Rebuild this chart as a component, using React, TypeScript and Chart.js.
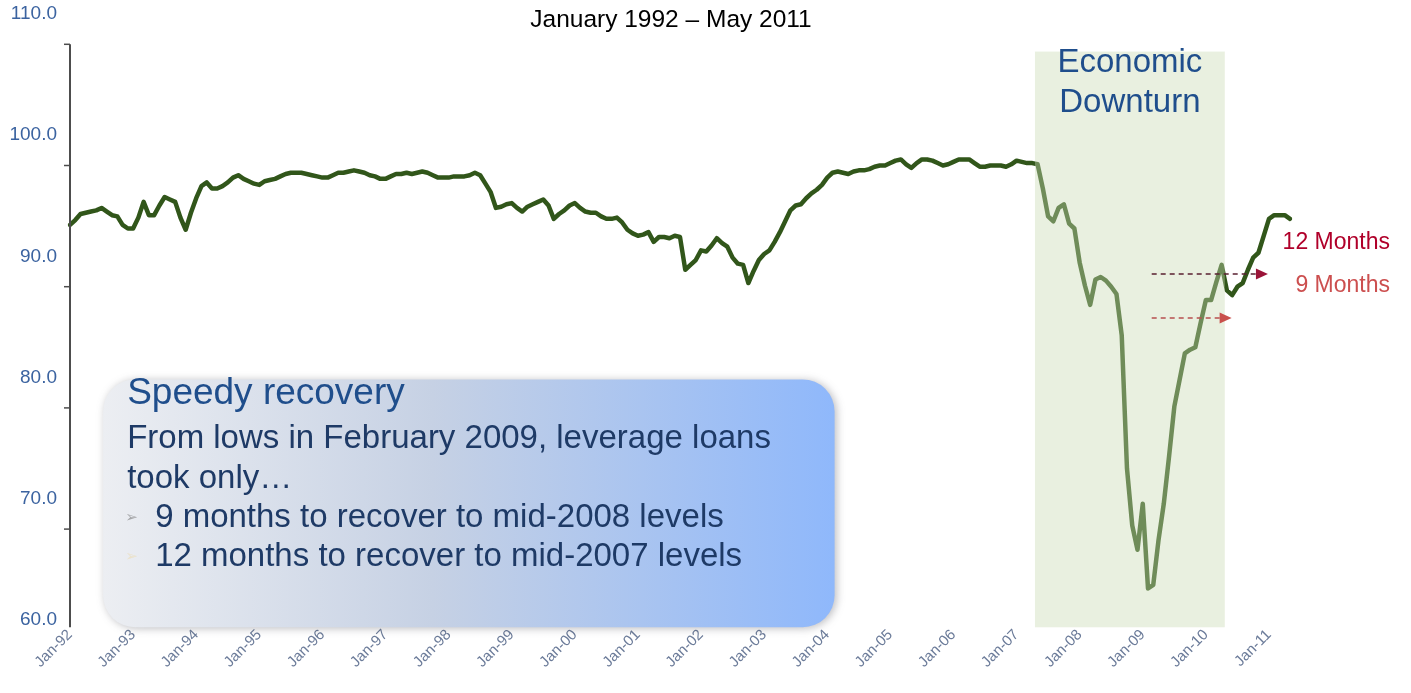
import { useEffect, useRef } from "react";
import { Chart, registerables } from "chart.js";
Chart.register(...registerables);

// ---------- DATA ----------
const monthNames = ["Jan", "Feb", "Mar", "Apr", "May", "Jun", "Jul", "Aug", "Sep", "Oct", "Nov", "Dec"];
const years = ["92", "93", "94", "95", "96", "97", "98", "99", "00", "01", "02", "03", "04", "05", "06", "07", "08", "09", "10", "11"];
const lastYearMonths = 5; // data ends May 2011

const categories: string[] = [];
years.forEach((yy, yi) => {
  const n = yi === years.length - 1 ? lastYearMonths : 12;
  for (let m = 0; m < n; m++) categories.push(`${monthNames[m]}-${yy}`);
});

const idx1992_1995 = [
  92.6, 93.0, 93.5, 93.6, 93.7, 93.8, 94.0, 93.7, 93.4, 93.3, 92.6, 92.3,
  92.3, 93.2, 94.5, 93.4, 93.4, 94.2, 94.9, 94.7, 94.5, 93.2, 92.2, 93.6,
  94.8, 95.8, 96.1, 95.6, 95.6, 95.8, 96.1, 96.5, 96.7, 96.4, 96.2, 96.0,
  95.9, 96.2, 96.3, 96.4, 96.6, 96.8, 96.9, 96.9, 96.9, 96.8, 96.7, 96.6,
];
const idx1996_1999 = [
  96.5, 96.5, 96.7, 96.9, 96.9, 97.0, 97.1, 97.0, 96.9, 96.7, 96.6, 96.4,
  96.4, 96.6, 96.8, 96.8, 96.9, 96.8, 96.9, 97.0, 96.9, 96.7, 96.5, 96.5,
  96.5, 96.6, 96.6, 96.6, 96.7, 96.9, 96.7, 96.0, 95.3, 94.0, 94.1, 94.3,
  94.4, 94.0, 93.7, 94.1, 94.3, 94.5, 94.7, 94.2, 93.1, 93.5, 93.8, 94.2,
];
const idx2000_2003 = [
  94.4, 94.0, 93.7, 93.6, 93.6, 93.3, 93.1, 93.1, 93.2, 92.8, 92.2, 91.9,
  91.7, 91.8, 92.0, 91.2, 91.6, 91.6, 91.5, 91.7, 91.6, 88.9, 89.3, 89.7,
  90.5, 90.4, 90.9, 91.5, 91.1, 90.8, 89.9, 89.4, 89.3, 87.8, 88.8, 89.7,
  90.2, 90.5, 91.2, 92.0, 92.9, 93.8, 94.2, 94.3, 94.8, 95.2, 95.5, 95.9,
];
const idx2004_2007 = [
  96.5, 96.9, 97.0, 96.9, 96.8, 97.0, 97.1, 97.1, 97.2, 97.4, 97.5, 97.5,
  97.7, 97.9, 98.0, 97.6, 97.3, 97.7, 98.0, 98.0, 97.9, 97.7, 97.5, 97.6,
  97.8, 98.0, 98.0, 98.0, 97.7, 97.4, 97.4, 97.5, 97.5, 97.5, 97.4, 97.6,
  97.9, 97.8, 97.7, 97.7, 97.6, 95.6, 93.3, 92.9, 94.0, 94.3, 92.7, 92.3,
];
const idx2008_2011 = [
  89.5, 87.6, 86.0, 88.1, 88.3, 88.0, 87.5, 86.9, 83.5, 72.5, 67.8, 65.8,
  69.6, 62.6, 62.9, 66.6, 69.6, 73.5, 77.6, 79.8, 82.0, 82.3, 82.5, 84.5,
  86.4, 86.4, 87.9, 89.3, 87.2, 86.8, 87.5, 87.8, 88.9, 89.9, 90.3, 91.7,
  93.1, 93.4, 93.4, 93.4, 93.1,
];
const loanIndex = [...idx1992_1995, ...idx1996_1999, ...idx2000_2003, ...idx2004_2007, ...idx2008_2011];

const yMin = 60;
const yMax = 110;
const yStep = 10;
const axisTickMarks = [107.5, 97.5, 87.5, 77.5, 67.5];
const axisExtent = [107.5, 59.4];

const titleText = "January 1992 – May 2011";
const downturnLabel = ["Economic", "Downturn"];
const downturnSpan = { from: 183.5, to: 219.6, top: 106.9, bottom: 59.4 };
const recoverySpan = { from: 6.3, to: 145.4, top: 79.85, bottom: 59.4 };
const recoveryTitle = "Speedy recovery";
const recoveryLines = ["From lows in February 2009, leverage loans", "took only…"];
const recoveryBullets = ["9 months to recover to mid-2008 levels", "12 months to recover to mid-2007 levels"];
const arrow12 = { from: 205.7, to: 227.8, level: 88.55, label: "12 Months", labelLevel: 90.6 };
const arrow9 = { from: 205.7, to: 220.9, level: 84.92, label: "9 Months", labelLevel: 87.1 };

const FONT = '"Liberation Sans", Arial, sans-serif';

const annotationPlugin = {
  id: "annotations",
  beforeDatasetsDraw(chart: any) {
    const { ctx, scales } = chart;
    const x = scales.x, y = scales.y;
    const l = x.getPixelForValue(recoverySpan.from);
    const r = x.getPixelForValue(recoverySpan.to);
    const t = y.getPixelForValue(recoverySpan.top);
    const b = y.getPixelForValue(recoverySpan.bottom);
    ctx.save();
    ctx.shadowColor = "rgba(60,60,70,0.35)";
    ctx.shadowBlur = 9;
    ctx.shadowOffsetX = 2;
    ctx.shadowOffsetY = 1;
    const grad = ctx.createLinearGradient(l, 0, r, 0);
    grad.addColorStop(0, "#eceef2");
    grad.addColorStop(0.45, "#c6d1e4");
    grad.addColorStop(1, "#8fb8fb");
    ctx.fillStyle = grad;
    ctx.beginPath();
    ctx.roundRect(l, t, r - l, b - t, 32);
    ctx.fill();
    ctx.restore();

    ctx.save();
    ctx.textAlign = "left";
    ctx.textBaseline = "alphabetic";
    ctx.fillStyle = "#1f4e8c";
    ctx.font = `37px ${FONT}`;
    ctx.fillText(recoveryTitle, l + 24, t + 25);
    ctx.fillStyle = "#1e3a66";
    ctx.font = `33px ${FONT}`;
    recoveryLines.forEach((s, i) => ctx.fillText(s, l + 24, t + 69 + i * 39.5));
    recoveryBullets.forEach((s, i) => {
      const by = t + 148 + i * 39;
      ctx.font = `15px "DejaVu Sans", sans-serif`;
      ctx.fillStyle = i === 0 ? "rgba(110,110,110,0.55)" : "rgba(235,225,200,0.9)";
      ctx.fillText("➢", l + 22, by - 5);
      ctx.font = `33px ${FONT}`;
      ctx.fillStyle = "#1e3a66";
      ctx.fillText(s, l + 52, by);
    });
    ctx.restore();
  },
  afterDatasetsDraw(chart: any) {
    const { ctx, scales, chartArea } = chart;
    const x = scales.x, y = scales.y;

    // Economic downturn shading (translucent, lightens the line beneath)
    const dl = x.getPixelForValue(downturnSpan.from);
    const dr = x.getPixelForValue(downturnSpan.to);
    const dt = y.getPixelForValue(downturnSpan.top);
    const db = y.getPixelForValue(downturnSpan.bottom);
    ctx.save();
    ctx.fillStyle = "rgba(201,218,179,0.41)";
    ctx.fillRect(dl, dt, dr - dl, db - dt);
    ctx.fillStyle = "#1f4e8c";
    ctx.font = `33px ${FONT}`;
    ctx.textAlign = "center";
    ctx.textBaseline = "alphabetic";
    downturnLabel.forEach((s, i) => ctx.fillText(s, (dl + dr) / 2, dt + 20 + i * 40));
    ctx.restore();

    // arrows
    const drawArrow = (a: any, dashColor: string, headColor: string) => {
      const x0 = x.getPixelForValue(a.from);
      const x1 = x.getPixelForValue(a.to);
      const yy = y.getPixelForValue(a.level);
      ctx.save();
      ctx.strokeStyle = dashColor;
      ctx.lineWidth = 1.5;
      ctx.setLineDash([5, 4]);
      ctx.beginPath();
      ctx.moveTo(x0, yy);
      ctx.lineTo(x1 - 11, yy);
      ctx.stroke();
      ctx.setLineDash([]);
      ctx.fillStyle = headColor;
      ctx.beginPath();
      ctx.moveTo(x1, yy);
      ctx.lineTo(x1 - 12, yy - 5.5);
      ctx.lineTo(x1 - 12, yy + 5.5);
      ctx.closePath();
      ctx.fill();
      ctx.restore();
    };
    drawArrow(arrow12, "#5a2030", "#9b1438");
    drawArrow(arrow9, "#b85050", "#c9504c");

    // month labels
    ctx.save();
    ctx.font = `23px ${FONT}`;
    ctx.textAlign = "right";
    ctx.textBaseline = "alphabetic";
    ctx.fillStyle = "#b0002a";
    ctx.fillText(arrow12.label, chartArea.right + 100, y.getPixelForValue(arrow12.labelLevel));
    ctx.fillStyle = "#cc4f4f";
    ctx.fillText(arrow9.label, chartArea.right + 100, y.getPixelForValue(arrow9.labelLevel));
    ctx.restore();

    // y axis line with tick marks
    const ax = chartArea.left;
    ctx.save();
    ctx.strokeStyle = "#4d4d4d";
    ctx.lineWidth = 2;
    ctx.beginPath();
    ctx.moveTo(ax, y.getPixelForValue(axisExtent[0]));
    ctx.lineTo(ax, y.getPixelForValue(axisExtent[1]));
    ctx.stroke();
    ctx.lineWidth = 1.5;
    axisTickMarks.forEach((v) => {
      const ty = y.getPixelForValue(v);
      ctx.beginPath();
      ctx.moveTo(ax - 6, ty);
      ctx.lineTo(ax, ty);
      ctx.stroke();
    });
    ctx.restore();

    // title
    ctx.save();
    ctx.font = `24.5px ${FONT}`;
    ctx.fillStyle = "#000";
    ctx.textAlign = "center";
    ctx.textBaseline = "middle";
    ctx.fillText(titleText, (chartArea.left + chartArea.right) / 2 - 9, 20);
    ctx.restore();
  },
};

export default function App() {
  const ref = useRef<HTMLCanvasElement | null>(null);
  useEffect(() => {
    document.body.style.margin = "0";
    if (!ref.current) return;
    const chart = new Chart(ref.current, {
      type: "line",
      data: {
        labels: categories,
        datasets: [
          {
            data: loanIndex,
            borderColor: "#31561a",
            borderWidth: 4.5,
            pointRadius: 0,
            tension: 0,
            borderJoinStyle: "round",
            borderCapStyle: "round",
            fill: false,
          },
        ],
      },
      options: {
        animation: false,
        responsive: true,
        maintainAspectRatio: false,
        layout: { padding: { left: 0, right: 121, top: 14, bottom: 0 } },
        plugins: { legend: { display: false }, tooltip: { enabled: false }, title: { display: false } },
        scales: {
          x: {
            type: "category",
            offset: false,
            grid: { display: false, drawTicks: false },
            border: { display: false },
            ticks: {
              autoSkip: false,
              minRotation: 45,
              maxRotation: 45,
              padding: 6,
              color: "#6b7b99",
              font: { family: "Liberation Sans", size: 15 },
              callback: (_v: any, i: number) => (categories[i].startsWith("Jan") ? categories[i] : ""),
            },
            afterFit: (s: any) => {
              s.height = 73;
              s.paddingTop = 0;
              s.paddingBottom = 0;
            },
          },
          y: {
            min: yMin,
            max: yMax,
            grid: { display: false, drawTicks: false },
            border: { display: false },
            ticks: {
              stepSize: yStep,
              padding: 13,
              color: "#3b63a0",
              font: { family: "Liberation Sans", size: 19 },
              callback: (v: any) => Number(v).toFixed(1),
            },
            afterFit: (s: any) => {
              s.width = 70;
              s.paddingTop = 0;
              s.paddingBottom = 0;
            },
          },
        },
      },
      plugins: [annotationPlugin],
    });
    return () => chart.destroy();
  }, []);
  return (
    <div style={{ position: "relative", width: 1411, height: 693 }}>
      <canvas ref={ref} />
    </div>
  );
}
